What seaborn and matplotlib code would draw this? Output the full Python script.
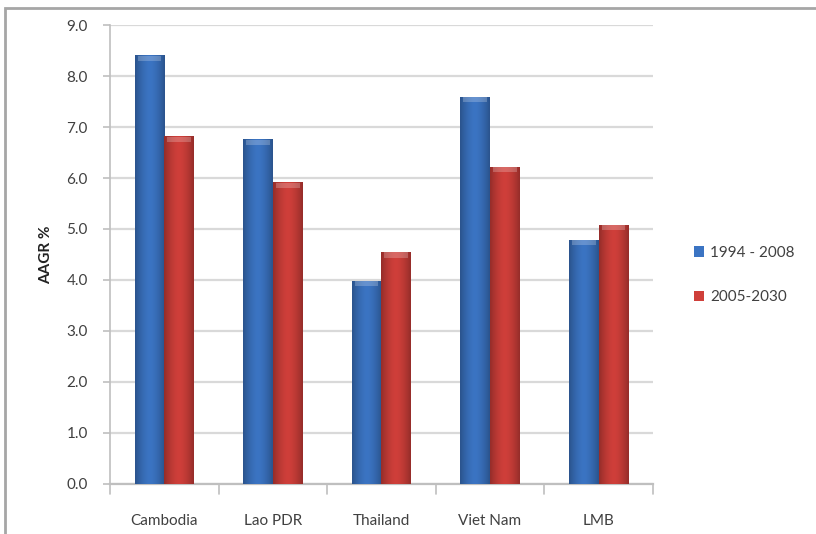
import matplotlib
matplotlib.use("Agg")
import matplotlib.pyplot as plt
from matplotlib.patches import Rectangle
import numpy as np
import pandas as pd
import seaborn as sns

countries = ["Cambodia", "Lao PDR", "Thailand", "Viet Nam", "LMB"]
series_names = ["1994 - 2008", "2005-2030"]
aagr_1994_2008 = [8.4, 6.75, 3.98, 7.59, 4.78]
aagr_2005_2030 = [6.81, 5.91, 4.54, 6.21, 5.07]
y_ticks = [0.0, 1.0, 2.0, 3.0, 4.0, 5.0, 6.0, 7.0, 8.0, 9.0]

df = pd.DataFrame({
    "Country": countries * 2,
    "Period": [series_names[0]] * len(countries) + [series_names[1]] * len(countries),
    "AAGR": aagr_1994_2008 + aagr_2005_2030,
})

sns.set_theme(style="white")
plt.rcParams["font.family"] = ["Lato", "DejaVu Sans"]

fig = plt.figure(figsize=(8.16, 5.34), dpi=100)
ax = fig.add_axes([0.135, 0.094, 0.665, 0.859])

palette = {series_names[0]: "#3b74c3", series_names[1]: "#cf3f3a"}
sns.barplot(data=df, x="Country", y="AAGR", hue="Period", palette=palette,
            width=0.55, gap=0, saturation=1, ax=ax, zorder=3,
            edgecolor="none", linewidth=0)

# subtle shading on each bar: darker edges, lighter centre
for bar in ax.patches:
    if not isinstance(bar, Rectangle) or bar.get_height() <= 0:
        continue
    x0, w, h = bar.get_x(), bar.get_width(), bar.get_height()
    base = np.array(matplotlib.colors.to_rgb(bar.get_facecolor()))
    grad = np.linspace(-1, 1, 64)
    shade = 1 - 0.28 * np.abs(grad) ** 1.6
    img = np.clip(base[None, :] * shade[:, None], 0, 1)[None, :, :]
    ax.imshow(img, extent=[x0, x0 + w, 0, h], aspect="auto", zorder=3.5,
              interpolation="bilinear")
    bar.set_alpha(0)
    # light cap on top
    cap = min(0.1, h)
    ax.add_patch(Rectangle((x0 + w * 0.1, h - cap), w * 0.8, cap,
                           facecolor="white", alpha=0.22, zorder=4, linewidth=0))

ax.set_xlim(-0.5, len(countries) - 0.5)
ax.set_ylim(0, 9)
ax.set_yticks(y_ticks)
ax.set_yticklabels([f"{v:.1f}" for v in y_ticks], fontsize=11, color="#404040")
ax.set_xticks(range(len(countries)))
ax.set_xticklabels(countries, fontsize=11, color="#404040")
ax.tick_params(axis="x", length=0, pad=22)
ax.tick_params(axis="y", length=5, color="#bfbfbf", width=1.2, pad=11, left=True)
# boundary tick marks between categories
for b in np.arange(-0.5, len(countries), 1.0):
    ax.plot([b, b], [0, -0.2], color="#bfbfbf", lw=1.2, clip_on=False, zorder=5)

ax.set_xlabel("")
ax.set_ylabel("AAGR %", fontsize=11, fontweight="bold", color="#222222", labelpad=10)

ax.yaxis.grid(True, color="#d9d9d9", lw=1.6, zorder=0)
ax.set_axisbelow(True)
for side in ["top", "right"]:
    ax.spines[side].set_visible(False)
ax.spines["left"].set_color("#bfbfbf")
ax.spines["left"].set_linewidth(1.2)
ax.spines["bottom"].set_color("#bfbfbf")
ax.spines["bottom"].set_linewidth(1.6)

handles, labels = ax.get_legend_handles_labels()
for hd in handles:
    hd.set_alpha(1)
ax.legend(handles, labels, loc="center left", bbox_to_anchor=(1.05, 0.455),
          frameon=False, fontsize=11, handlelength=0.7, handleheight=0.7,
          labelspacing=2.0, handletextpad=0.4, labelcolor="#404040")

# outer chart frame
fig.patches.append(Rectangle((0.006, -0.05), 1.1, 1.035, transform=fig.transFigure,
                             fill=False, edgecolor="#a6a6a6", lw=2.0))

fig.savefig("out.png", dpi=100)
